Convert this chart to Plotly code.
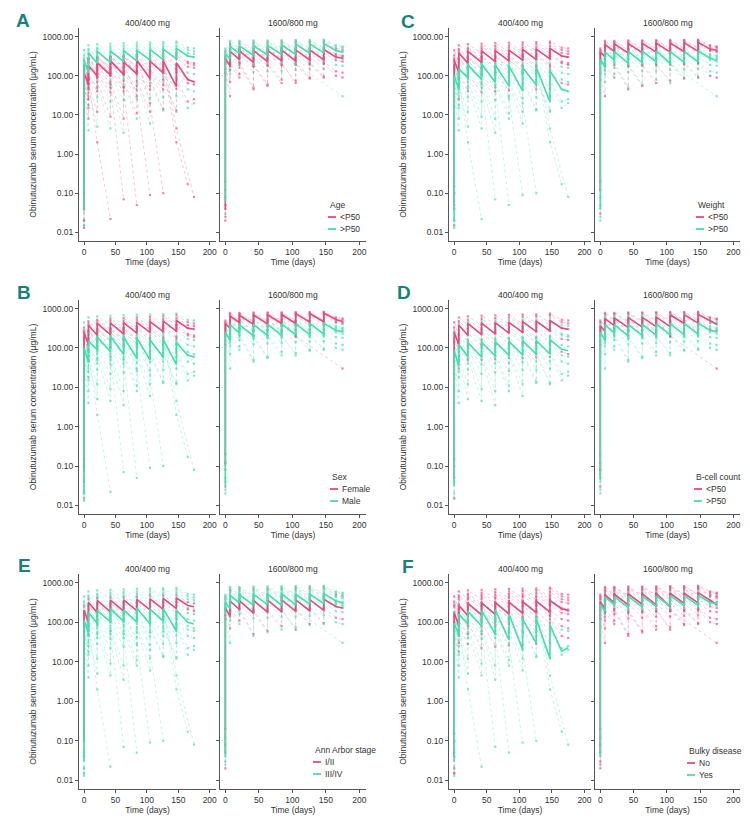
import pandas as pd
import plotly.graph_objects as go


PINK = "#E8497F"
GREEN = "#45DEAE"
AXIS = "#555555"
TEXT = "#333333"
LETTER = "#17827C"
FONT = "Liberation Sans, Arial, sans-serif"
W, H = 750, 823

N = None

# sampling times (days): pre/post dose on dosing days, then follow-up
TIMES = [0, 0, 7, 7, 21, 21, 42, 42, 63, 63, 84, 84, 105, 105, 126, 126, 147, 147, 165, 175]

# obinutuzumab serum concentration (ug/mL), one row per patient
CONC_400 = [
    [0.015, 330, 170, 480, 300, 520, 300, 560, 320, 580, 340, 600, 350, 620, 370, 640, 380, 680, 450, 420],
    [0.1, 250, 120, 380, 210, 420, 220, 430, 230, 440, 240, 450, 250, 470, 260, 480, 270, 500, 320, 300],
    [0.04, 180, 90, 280, 150, 310, 160, 320, 165, 330, 170, 340, 180, 350, 185, 360, 190, 380, 230, 210],
    [N, 140, 65, 220, 110, 240, 115, 250, 120, 255, 125, 260, 130, 265, 135, 270, 140, 280, 170, 160],
    [0.015, 100, 45, 150, 80, 165, 80, 170, 85, 175, 90, 180, 90, 185, 95, 190, 95, 200, 120, 110],
    [N, 80, 30, 110, 50, 125, 50, 130, 52, 130, 55, 135, 55, 140, 58, 140, 60, 150, 80, 70],
    [0.02, 60, 18, 85, 28, 95, 22, 100, 24, 100, 26, 105, 27, 110, 28, 110, 30, 120, 45, 40],
    [N, 45, 8, 60, 12, 70, 9, 70, 8, 75, 11, 75, 12, 80, 14, 80, 13, 85, 22, 25],
    [0.15, 280, 140, 430, 250, 470, 260, 490, 280, 500, 290, 520, 300, 530, 310, 550, 320, 580, 380, 360],
    [N, 35, 4, 50, 5, 55, 4.5, 60, 3.5, 60, 8, 65, 6, 65, 13, 70, 12, 75, 15, 20],
    [0.05, 450, 220, 600, 380, 640, 380, 660, 400, 680, 410, 700, 420, 710, 430, 720, 440, 750, 520, 500],
    [N, 160, 80, 260, 140, 290, 145, 295, 150, 300, 155, 305, 160, 310, 165, 320, 170, 330, 210, 190],
    [N, 70, 25, 100, 40, 110, 38, 110, 40, 115, 42, 115, 44, 120, 45, 120, 46, 125, 65, 60],
    [0.02, 60, 15, 80, 2, N, 0.022, N, N, N, N, N, N, N, N, N, N, N, N, N],
    [0.1, 120, 60, 180, 100, 200, 60, N, 0.07, N, N, N, N, N, N, N, N, N, N, N],
    [N, 150, 80, 250, 140, 270, 150, 280, 50, N, 0.05, N, N, N, N, N, N, N, N, N],
    [0.04, 100, 50, 170, 90, 190, 100, 200, 105, 205, 30, N, 0.09, N, N, N, N, N, N, N],
    [N, 180, 90, 280, 160, 290, 170, 300, 175, 305, 180, 310, 20, N, 0.1, N, N, N, N, N],
    [0.013, 90, 45, 150, 90, 190, 105, 200, 110, 205, 112, 210, 115, 215, 118, 220, 2, N, 0.17, N],
    [N, 130, 65, 210, 115, 230, 125, 240, 130, 245, 132, 250, 135, 255, 138, 260, 4.5, N, N, 0.08],
]

CONC_1600 = [
    [0.03, 500, 380, 780, 520, 780, 480, 800, 490, 800, 500, 810, 500, 820, 510, 820, 520, 830, 600, 560],
    [0.2, 420, 320, 650, 440, 680, 400, 690, 410, 700, 420, 710, 420, 720, 430, 720, 440, 740, 500, 470],
    [N, 360, 270, 560, 370, 580, 330, 590, 340, 600, 350, 610, 350, 620, 360, 620, 370, 640, 430, 400],
    [0.025, 310, 220, 480, 310, 500, 270, 510, 280, 520, 290, 530, 290, 540, 300, 540, 310, 560, 360, 330],
    [N, 270, 180, 420, 260, 430, 220, 440, 230, 445, 240, 450, 240, 460, 250, 460, 255, 470, 300, 280],
    [0.05, 230, 140, 340, 210, 350, 170, 355, 180, 360, 185, 365, 190, 370, 195, 375, 200, 380, 250, 230],
    [N, 200, 110, 280, 160, 285, 125, 290, 130, 290, 135, 295, 140, 300, 145, 300, 150, 310, 190, 180],
    [0.02, 150, 70, 210, 110, 220, 50, 200, 60, 205, 80, 215, 65, 220, 90, 225, 95, 230, 130, 120],
    [N, 460, 350, 720, 480, 740, 450, 750, 460, 760, 470, 770, 470, 780, 480, 790, 490, 800, 560, 530],
    [0.12, 390, 290, 600, 400, 630, 360, 640, 370, 650, 380, 660, 380, 670, 390, 680, 400, 690, 460, 430],
    [N, 290, 200, 450, 290, 460, 250, 465, 260, 470, 265, 475, 270, 480, 275, 485, 280, 495, 330, 310],
    [0.04, 250, 160, 390, 240, 395, 200, 400, 205, 405, 210, 410, 215, 415, 220, 420, 225, 430, 280, 260],
    [N, 120, 30, 180, 90, 190, 45, 180, 55, 185, 65, 190, 75, 195, 85, 200, 90, 210, 100, 90],
    [0.08, 330, 230, 500, 320, 520, 280, 530, 290, 540, 260, 550, 200, N, N, N, N, N, N, 30],
]

ARMS = ["400/400 mg", "1600/800 mg"]
PANELS = ["A", "B", "C", "D", "E", "F"]
COVARIATES = {
    "A": "Age", "B": "Sex", "C": "Weight",
    "D": "B-cell count", "E": "Ann Arbor stage", "F": "Bulky disease",
}
GROUP_LABELS = {
    "A": ["<P50", ">P50"], "B": ["Female", "Male"], "C": ["<P50", ">P50"],
    "D": ["<P50", ">P50"], "E": ["I/II", "III/IV"], "F": ["No", "Yes"],
}
# 0 = first level (pink), 1 = second level (green), -1 = missing covariate
GROUPS_400 = {
    "A": [1, 1, 0, 0, 1, 0, 1, 0, 1, 1, 1, 0, 0, 0, 0, 0, 0, 0, 0, 0],
    "B": [0, 0, 0, 1, 1, 1, 1, 1, 0, 1, 1, 0, 1, 1, 1, 1, 1, 1, 1, 1],
    "C": [0, 0, 0, 1, 1, 1, 1, 1, 0, 1, 0, 0, 0, 1, 1, 1, 1, 1, 1, 1],
    "D": [0, 0, 1, 0, 1, 0, 1, 1, 1, 1, 0, 1, 1, -1, -1, -1, -1, -1, -1, -1],
    "E": [1, 0, 1, 1, 1, 1, 1, 1, 1, 1, 1, 0, 1, 1, 1, 1, 1, 1, 1, 1],
    "F": [0, 0, 0, 0, 0, 0, 0, 1, 0, 1, 0, 0, 1, 1, 1, 1, 1, 1, 1, 1],
}
GROUPS_1600 = {
    "A": [1, 0, 1, 0, 0, 0, 1, 0, 1, 1, 0, 1, 0, 1],
    "B": [0, 0, 1, 1, 1, 1, 1, 1, 0, 0, 1, 1, 1, 0],
    "C": [0, 0, 0, 1, 1, 1, 1, 1, 0, 0, 1, 1, 0, 1],
    "D": [0, 1, 0, 1, 0, 1, 1, 1, 0, 1, 1, 1, 1, 0],
    "E": [1, 0, 1, 1, 1, 0, 1, 0, 1, 1, 1, 1, 1, 1],
    "F": [0, 0, 1, 0, 1, 0, 0, 0, 0, 0, 1, 1, 0, 0],
}

Y_TICKS = [0.01, 0.1, 1, 10, 100, 1000]
Y_TICKTEXT = ["0.01", "0.10", "1.00", "10.00", "100.00", "1000.00"]

# page layout in pixels
COL_X = [[(71, 208), (212, 358)], [(441, 583), (587, 732)]]
ROW_Y = [(20, 233), (292, 506), (566, 781)]
PANEL_POS = {"A": (0, 0), "C": (0, 1), "B": (1, 0), "D": (1, 1), "E": (2, 0), "F": (2, 1)}
LETTER_POS = {"A": (15, 13), "C": (400, 14), "B": (16, 284), "D": (396, 284), "E": (16, 557), "F": (400, 558)}
LEGEND_POS = {"A": (320, 197), "C": (688, 197), "B": (322, 469), "D": (686, 469), "E": (305, 742), "F": (679, 743)}

COLORS = [PINK, GREEN]


def rgba(hex_color, alpha):
    h = hex_color.lstrip("#")
    r, g, b = (int(h[i:i + 2], 16) for i in (0, 2, 4))
    return f"rgba({r},{g},{b},{alpha})"


def px_x(v):
    return v / W


def px_y(v):
    return 1 - v / H


fig = go.Figure()
axes = {}
annotations = []
shapes = []
n = 0

for panel in PANELS:
    row, col = PANEL_POS[panel]
    yt, yb = ROW_Y[row]
    for a, arm in enumerate(ARMS):
        n += 1
        suffix = "" if n == 1 else str(n)
        xname, yname = f"x{suffix}", f"y{suffix}"
        x0, x1 = COL_X[col][a]
        conc = CONC_400 if a == 0 else CONC_1600
        groups = (GROUPS_400 if a == 0 else GROUPS_1600)[panel]

        df = pd.DataFrame(conc, dtype=float)
        grp = pd.Series(groups)

        for i in range(len(df)):
            g = grp[i]
            if g < 0:
                continue
            fig.add_trace(go.Scatter(
                x=TIMES, y=df.iloc[i].tolist(), mode="lines+markers",
                xaxis=xname, yaxis=yname, connectgaps=True,
                line=dict(color=rgba(COLORS[g], 0.45), width=0.7, dash="dot"),
                marker=dict(size=2.2, symbol="square", color=rgba(COLORS[g], 0.65)),
                hoverinfo="skip", showlegend=False,
            ))
        # group median profile
        for g in (0, 1):
            med = df[grp == g].median(axis=0, skipna=True)
            fig.add_trace(go.Scatter(
                x=TIMES, y=med.tolist(), mode="lines", xaxis=xname, yaxis=yname,
                connectgaps=True, line=dict(color=COLORS[g], width=1.6),
                name=GROUP_LABELS[panel][g], showlegend=False,
            ))

        axes[f"xaxis{suffix}"] = dict(
            domain=[px_x(x0), px_x(x1)], anchor=yname, range=[-8, 210],
            tickvals=[0, 50, 100, 150, 200], ticks="outside", ticklen=3,
            tickcolor=AXIS, showline=True, linecolor=AXIS, linewidth=1,
            showgrid=False, zeroline=False,
            tickfont=dict(size=8.5, color=TEXT),
            title=dict(text="Time (days)", font=dict(size=8.5, color=TEXT), standoff=2),
        )
        axes[f"yaxis{suffix}"] = dict(
            domain=[px_y(yb), px_y(yt)], anchor=xname, type="log", range=[-2.22, 3.22],
            tickvals=Y_TICKS, ticktext=Y_TICKTEXT, ticks="outside", ticklen=3,
            tickcolor=AXIS, showline=True, linecolor=AXIS, linewidth=1,
            showgrid=False, zeroline=False, showticklabels=(a == 0),
            tickfont=dict(size=8.5, color=TEXT),
            title=dict(
                text="Obinutuzumab serum concentration (µg/mL)" if a == 0 else "",
                font=dict(size=8.5, color=TEXT), standoff=4,
            ),
        )
        annotations.append(dict(
            text=arm, x=px_x((x0 + x1) / 2), y=px_y(yt - 5.5), xref="paper", yref="paper",
            showarrow=False, xanchor="center", yanchor="middle",
            font=dict(size=8.5, color=TEXT),
        ))

    lx, ly = LETTER_POS[panel]
    annotations.append(dict(
        text=f"<b>{panel}</b>", x=px_x(lx), y=px_y(ly), xref="paper", yref="paper",
        showarrow=False, xanchor="center", yanchor="middle",
        font=dict(size=19, color=LETTER, family="Liberation Sans Narrow, Arial Narrow, Arial"),
    ))

    # legend inside the right-hand facet
    gx, gy = LEGEND_POS[panel]
    annotations.append(dict(
        text=COVARIATES[panel], x=px_x(gx), y=px_y(gy), xref="paper", yref="paper",
        showarrow=False, xanchor="left", yanchor="middle",
        font=dict(size=8.5, color=TEXT),
    ))
    for g in (0, 1):
        ey = gy + 12 * (g + 1)
        shapes.append(dict(
            type="line", xref="paper", yref="paper",
            x0=px_x(gx), x1=px_x(gx + 8), y0=px_y(ey), y1=px_y(ey),
            line=dict(color=COLORS[g], width=1.8),
        ))
        annotations.append(dict(
            text=GROUP_LABELS[panel][g], x=px_x(gx + 10), y=px_y(ey),
            xref="paper", yref="paper", showarrow=False,
            xanchor="left", yanchor="middle", font=dict(size=8.5, color=TEXT),
        ))

fig.update_layout(
    **axes,
    width=W, height=H,
    margin=dict(l=0, r=0, t=0, b=0),
    paper_bgcolor="white", plot_bgcolor="white",
    font=dict(family=FONT, size=8.5, color=TEXT),
    showlegend=False,
    annotations=annotations,
    shapes=shapes,
)

fig.write_html("out.html")
